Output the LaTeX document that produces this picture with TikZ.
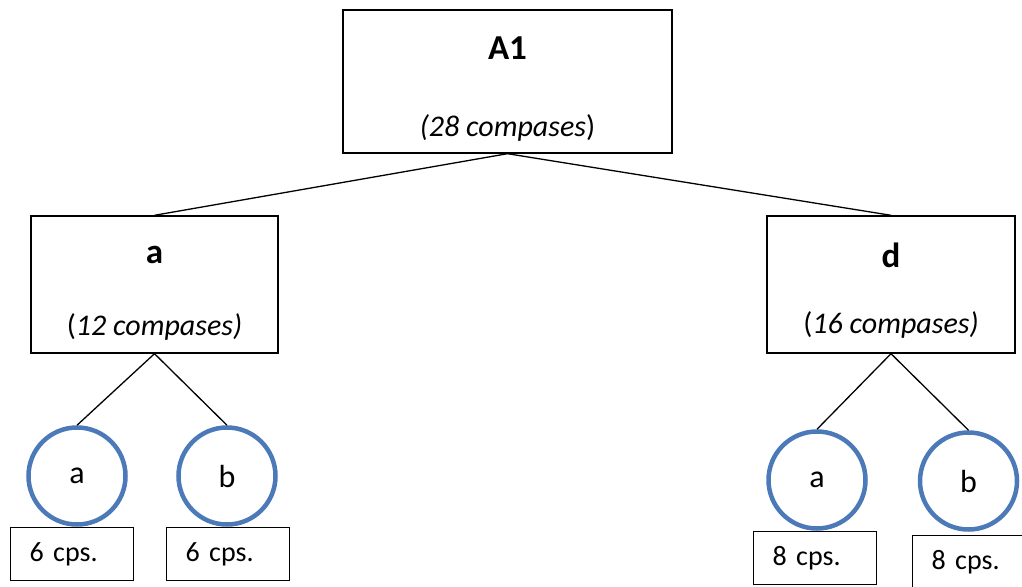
\documentclass[tikz,border=0pt]{standalone}
\usepackage{fontspec}
\setmainfont{Carlito}
\definecolor{ringblue}{RGB}{76,122,184}
\begin{document}
\begin{tikzpicture}[x=1bp,y=-1bp,
  panel/.style={draw=black, line width=1.4bp, rectangle, inner sep=0pt},
  ring/.style={circle, draw=ringblue, line width=4.5bp, minimum size=97bp, inner sep=0pt,
    font=\fontsize{32bp}{36bp}\selectfont},
  tag/.style={draw=black, line width=1.4bp, rectangle, minimum height=53bp,
    inner xsep=19bp, inner ysep=0pt, text width=85bp, align=left,
    font=\fontsize{28bp}{34bp}\selectfont},
  head/.style={font=\fontsize{35bp}{40bp}\selectfont\bfseries, inner sep=0pt},
  sub/.style={font=\fontsize{30bp}{36bp}\selectfont, inner sep=0pt},
  link/.style={draw=black, line width=1.3bp}]
\useasboundingbox (0,0) rectangle (1022,587);
\clip (0,0) rectangle (1022,587);

% section boxes
\node[panel, minimum width=329bp, minimum height=143bp] (A1) at (507.5,81.5) {};
\node[panel, minimum width=247bp, minimum height=137bp] (a) at (154.5,284.5) {};
\node[panel, minimum width=248bp, minimum height=137bp] (d) at (891,284.5) {};

% box texts
\node[head] (A1t) at (507.5,48) {A1};
\node[sub]  (A1s) at (507.5,128) {\textit{(28 compases}{)}};
\node[head] (at)  at (154.5,255) {a};
\node[sub]  (as)  at (154.5,327) {(\textit{12 compases)}};
\node[head] (dt)  at (891,255) {d};
\node[sub]  (ds)  at (891,325) {(\textit{16 compases)}};

% phrase circles
\node[ring] (aa) at (77,476) {a};
\node[ring] (ab) at (227,476) {b};
\node[ring] (da) at (817,480) {a};
\node[ring] (db) at (968.5,481) {b};

% bar counts
\node[tag, anchor=north west] (aat) at (10,527) {6 cps.};
\node[tag, anchor=north west] (abt) at (166,527) {6 cps.};
\node[tag, anchor=north west] (dat) at (753,531) {8 cps.};
\node[tag, anchor=north west] (dbt) at (912,535) {8 cps.};

% connectors
\draw[link] (A1.south) -- (a.north);
\draw[link] (A1.south) -- (d.north);
\draw[link] (a.south) -- (aa.north);
\draw[link] (a.south) -- (ab.north);
\draw[link] (d.south) -- (da.north);
\draw[link] (d.south) -- (db.north);
\end{tikzpicture}
\end{document}
